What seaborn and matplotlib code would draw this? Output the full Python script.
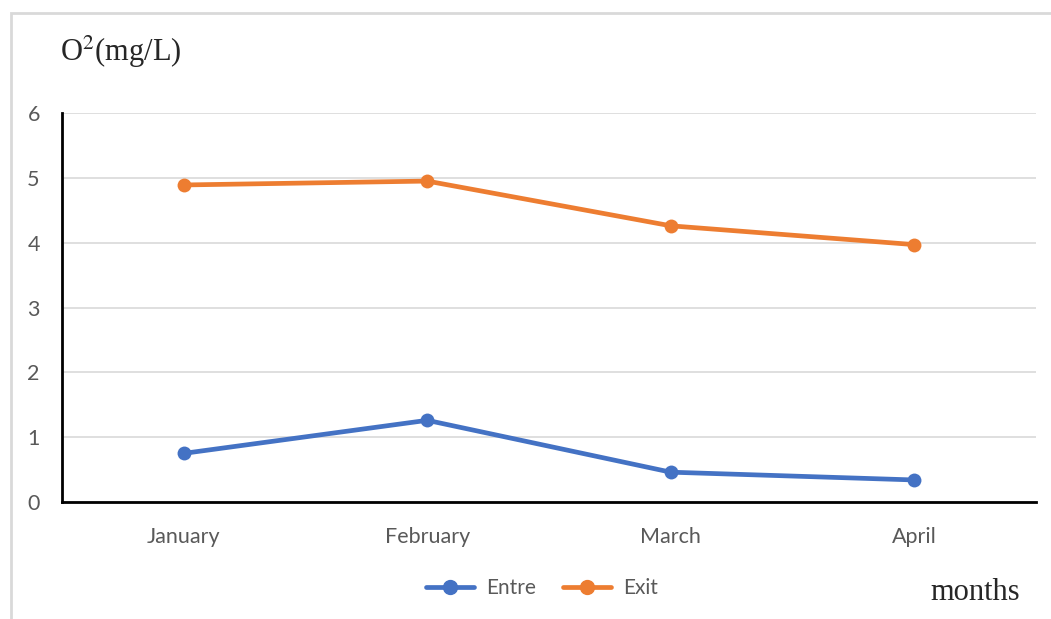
import matplotlib
matplotlib.use("Agg")
import matplotlib.pyplot as plt
from matplotlib.patches import Rectangle
from matplotlib.lines import Line2D
import seaborn as sns
import pandas as pd

months = ["January", "February", "March", "April"]
entre = [0.75, 1.26, 0.46, 0.34]
exit_ = [4.89, 4.95, 4.26, 3.97]
series_names = ["Entre", "Exit"]
colors = ["#4472C4", "#ED7D31"]
y_ticks = [0, 1, 2, 3, 4, 5, 6]

df = pd.DataFrame({
    "month": months * 2,
    "pos": list(range(len(months))) * 2,
    "value": entre + exit_,
    "series": [series_names[0]] * len(months) + [series_names[1]] * len(months),
})

sns.set_theme(style="white")
plt.rcParams["font.family"] = ["Lato", "DejaVu Sans"]

W, H = 1051, 619
fig = plt.figure(figsize=(W / 100, H / 100), dpi=100)
ax = fig.add_axes([62 / W, 1 - 502 / H, (1036 - 62) / W, (502 - 113) / H])

sns.lineplot(data=df, x="pos", y="value", hue="series", palette=colors,
             marker="o", markersize=10, markeredgewidth=0, linewidth=3.4,
             ax=ax, legend=False)

ax.set_xlim(-0.5, len(months) - 0.5)
ax.set_ylim(0, 6)
ax.set_xticks(range(len(months)))
ax.set_xticklabels(months)
ax.set_yticks(y_ticks)
ax.set_xlabel("")
ax.set_ylabel("")
ax.grid(axis="y", color="#d9d9d9", linewidth=1.2)
ax.set_axisbelow(True)
for side in ["top", "right"]:
    ax.spines[side].set_visible(False)
for side in ["left", "bottom"]:
    ax.spines[side].set_color("black")
    ax.spines[side].set_linewidth(2)
ax.tick_params(axis="both", length=0, labelsize=15.5, colors="#595959")
ax.tick_params(axis="x", pad=18)
ax.tick_params(axis="y", pad=16)

# outer chart frame
fig.patches.append(Rectangle((11 / W, -0.05), 1.2, 1 - 13 / H + 0.05,
                             transform=fig.transFigure, fill=False,
                             edgecolor="#d9d9d9", linewidth=2))

fig.text(60 / W, 1 - 52 / H, r"O$^{2}$(mg/L)", fontsize=22,
         family="Liberation Serif", va="center", ha="left",
         math_fontfamily="stix")
fig.text(1020 / W, 1 - 592 / H, "months", fontsize=22,
         family="Liberation Serif", va="center", ha="right")

handles = [Line2D([], [], color=c, linewidth=3.4, marker="o", markersize=10)
           for c in colors]
fig.legend(handles, series_names, loc="center", bbox_to_anchor=(542 / W, 1 - 588 / H),
           ncol=2, frameon=False, fontsize=15, labelcolor="#595959",
           handlelength=2.3, columnspacing=1.3, handletextpad=0.6)

fig.savefig("out.png", dpi=100)
